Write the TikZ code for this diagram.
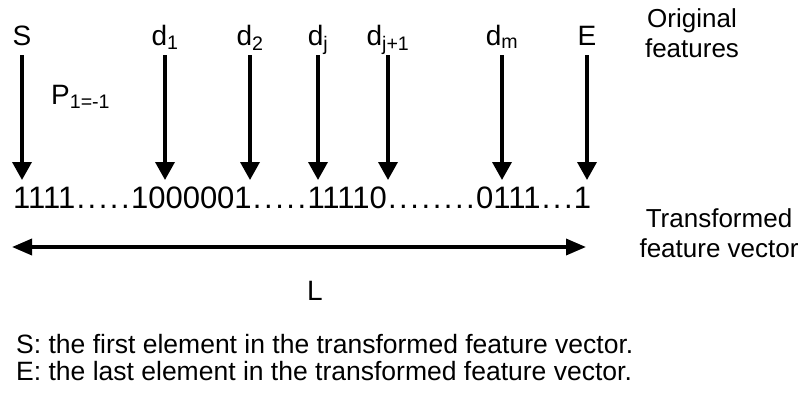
\documentclass[tikz,border=0pt]{standalone}
\usepackage{fontspec}
\setmainfont{Liberation Sans}
\usetikzlibrary{arrows.meta}
\newcommand\rdot{\makebox[0.36em][c]{.}}
\tikzset{
    featlab/.style={anchor=base, inner sep=0pt, font=\fontsize{28}{32}\selectfont},
    sidelab/.style={anchor=base, inner sep=0pt, font=\fontsize{26}{30}\selectfont},
    notelab/.style={anchor=base west, inner sep=0pt, font=\fontsize{26.5}{30}\selectfont},
    featarrow/.style={line width=3.5pt, -{Triangle[width=19pt,length=18pt]}},
    lenarrow/.style={line width=3.5pt, {Triangle[width=16pt,length=20pt]}-{Triangle[width=16pt,length=20pt]}}
}

\begin{document}
\begin{tikzpicture}[x=1pt,y=-1pt,line cap=butt]

    \useasboundingbox (0,0) rectangle (803,392);

% --- original features and their arrows ---
    \foreach \x/\lab/\name in {22/S/s, 165/d\textsubscript{1}/done, 250/d\textsubscript{2}/dtwo,
        318/d\textsubscript{j}/dj, 388/d\textsubscript{j+1}/djone, 502/d\textsubscript{m}/dm, 587/E/e}{
        \node[featlab] (\name) at (\x,45) {\lab};
        \coordinate (\name tip) at (\x,180);
        \draw[featarrow] (\name tip |- 0,55) -- (\name tip);
    }

    \node[featlab, anchor=base west] (p) at (51,104) {P\textsubscript{1=-1}};

% --- transformed feature vector ---
    \node[anchor=base west, inner sep=0pt, font=\fontsize{31}{36}\selectfont] (row) at (13,208)
        {1111\rdot\rdot\rdot\rdot\rdot 1000001\rdot\rdot\rdot\rdot\rdot 11110\rdot\rdot\rdot\rdot\rdot\rdot\rdot\rdot 0111\rdot\rdot\rdot 1};

    \coordinate (lstart) at (12,247);
    \coordinate (lend) at (586,247);
    \draw[lenarrow] (lstart) -- (lend);
    \node[featlab] (len) at (315,300) {L};

% --- side labels ---
    \node[sidelab] (orig) at (692,27) {Original};
    \node[sidelab] (origb) at (692,57) {features};
    \node[sidelab] (trans) at (719,227) {Transformed};
    \node[sidelab] (transb) at (719,257) {feature vector};

% --- notes ---
    \node[notelab] (notes) at (16,353) {S: the first element in the transformed feature vector.};
    \node[notelab] (notee) at (16,380) {E: the last element in the transformed feature vector.};

\end{tikzpicture}
\end{document}
